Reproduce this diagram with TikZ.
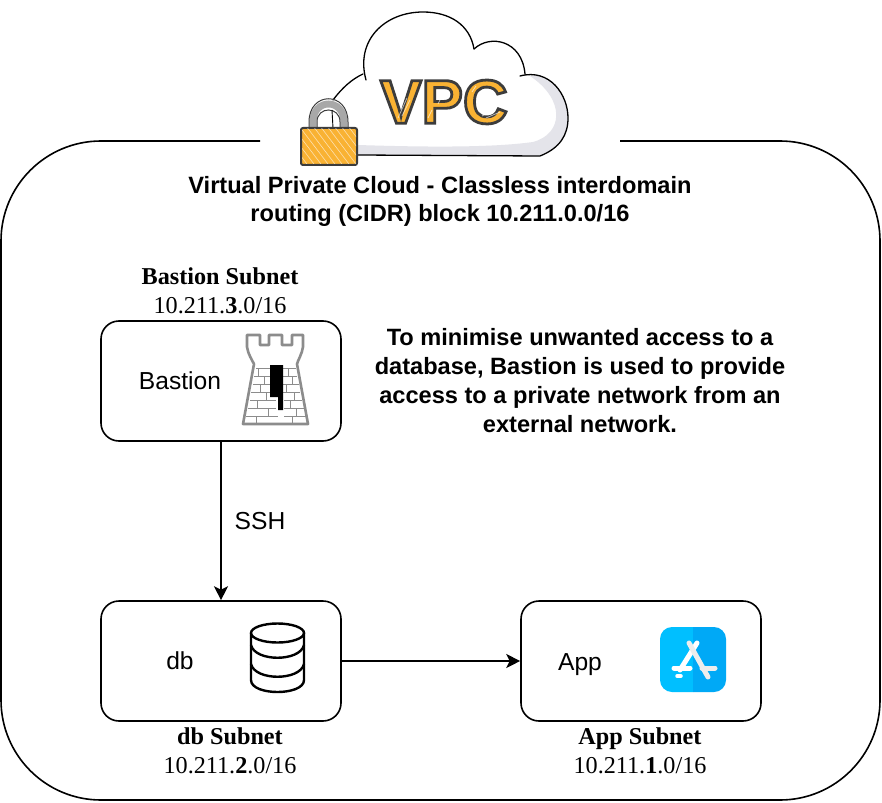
\documentclass[tikz,border=0pt]{standalone}
\usepackage{fontspec}
\setmainfont{Liberation Sans}
\newfontfamily\serifface{Liberation Serif}
\usetikzlibrary{arrows.meta}
\definecolor{vorange}{HTML}{F9B233}
\definecolor{vdark}{HTML}{3C3C3C}
\definecolor{vshade}{HTML}{E4E4EA}
\definecolor{vgray}{HTML}{A8A8A8}
\definecolor{twall}{HTML}{8C8C8C}
\definecolor{appl}{HTML}{00BFFF}
\definecolor{appr}{HTML}{00A9F6}
\tikzset{
  box/.style={draw=black,line width=1.6pt,rounded corners=18pt,minimum width=240pt,minimum height=120pt,inner sep=0pt},
  sans/.style={font=\fontsize{24.6}{28}\selectfont,inner sep=0pt},
  headtext/.style={font=\fontsize{23.6}{28}\selectfont\bfseries,align=center,inner sep=0pt},
  notetext/.style={font=\fontsize{23.6}{29}\selectfont\bfseries,align=center,inner sep=0pt},
  subtext/.style={font=\serifface\fontsize{24.2}{28.5}\selectfont,align=center,inner sep=0pt},
  link/.style={draw=black,line width=1.8pt,-{Stealth[length=14pt,width=14pt,inset=3.5pt]}},
  frame/.style={draw=black,line width=1.6pt},
  hatch/.style={draw=white,opacity=.6,line width=.6pt},
  brick/.style={draw=twall,line width=.8pt},
  cloudline/.style={draw=black,line width=1.3pt,line cap=round},
  appstroke/.style={draw=white,line cap=round,line width=5pt},
}
\begin{document}
\begin{tikzpicture}[x=1pt,y=-1pt]
\useasboundingbox[fill=white] (0,0) rectangle (882,802);
% outer frame
\draw[frame,rounded corners=100pt] (260,141) -- (1,141) -- (1,800) -- (880,800) -- (880,141) -- (620,141);
% cloud
\fill[white] (333,100) .. controls (345,88) and (355,80) .. (363,74)
  .. controls (355,40) and (385,12) .. (423,12) .. controls (450,12) and (470,25) .. (474,49)
  .. controls (490,34) and (525,40) .. (525,74) .. controls (550,72) and (568,95) .. (568,118)
  .. controls (568,135) and (560,148) .. (540,156) -- (358,155) -- (333,140) -- cycle;
\fill[vshade] (530,76) .. controls (550,72) and (568,95) .. (568,118)
  .. controls (568,135) and (560,148) .. (540,156) -- (358,155) -- (358,145)
  .. controls (420,147) and (490,148) .. (533,142) .. controls (563,134) and (566,100) .. (530,76) -- cycle;
\draw[cloudline] (333,100) .. controls (342,88) and (352,79) .. (363,74);
\draw[cloudline] (366,80) .. controls (355,40) and (385,12) .. (423,12)
  .. controls (450,12) and (470,25) .. (474,49);
\draw[cloudline] (474,49) .. controls (490,34) and (522,40) .. (525,74);
\draw[cloudline] (520,76) .. controls (550,68) and (568,95) .. (568,118)
  .. controls (568,135) and (560,148) .. (540,156) -- (358,155);
% VPC text
\node[inner sep=0pt,text=vorange,font=\fontsize{62}{62}\selectfont\bfseries] (vpc) at (444,102)
  {\special{pdf:code q 2 Tr 0.235 0.235 0.235 RG 2.8 w}VPC\special{pdf:code Q}};
\foreach \a/\b/\c/\d in {398/118/407/98,402/116/410/100,438/104/444/92,428/118/432/110,486/118/500/112,482/116/494/110,472/92/476/86}
  \draw[hatch,line width=.8pt] (\a,\b) -- (\c,\d);
% lock
\draw[vgray,line width=7pt] (313,129) -- (313,122) .. controls (313,98) and (344,98) .. (344,122) -- (344,129);
\draw[vdark,line width=1pt] (309,129) -- (309,122) .. controls (309,91) and (348,91) .. (348,122) -- (348,129);
\draw[vdark,line width=1pt] (317,129) -- (317,122) .. controls (317,106) and (340,106) .. (340,122) -- (340,129);
\draw[black,line width=.9pt] (332,110) -- (333,128);
\draw[fill=vorange,draw=vdark,line width=2pt,rounded corners=2pt] (301,128) rectangle (357,165);
\begin{scope}
\clip (302,129) rectangle (356,164);
\foreach \o in {0,7,...,84} {
  \draw[hatch] (296+\o,168) -- (296+\o-32,126);
}
\end{scope}
% boxes
\node[box] (bastion) at (221,381) {};
\node[box] (db) at (221,661) {};
\node[box] (app) at (641,661) {};
% tower
\fill[white,draw=twall,line width=2.6pt,line join=round] (247,335) -- (260,335) -- (260,345) -- (269,345) -- (269,335) -- (282,335) -- (282,345) -- (292,345) -- (292,335) -- (303,335) -- (303,347)
  .. controls (302,354) and (298,360) .. (297,364) -- (308,424) -- (243,424) -- (254,364)
  .. controls (252,360) and (248,354) .. (247,347) -- cycle;
\foreach \y/\a/\b in {368/256/270,368/283/296,376/254/270,376/283/297,384/253/270,384/283/299,392/251/270,392/283/300,400/250/276,400/284/302,408/248/276,408/284/304,416/246/278,416/284/306}
  \draw[brick] (\a,\y) -- (\b,\y);
\foreach \x/\y in {258/368,264/376,260/384,266/392,257/400,268/408,256/416,288/368,292/376,286/384,294/392,290/400,296/408,292/416}
  \draw[brick] (\x,\y) -- (\x,\y+8);
\fill[black] (270,365) -- (283,365) -- (283,410) -- (278,410) -- (278,397) -- (270,397) -- cycle;
% database
\begin{scope}[line width=2.4pt,draw=black]
\draw (277.5,633) ellipse[x radius=26.5,y radius=9.5];
\draw (251,633) -- (251,680) .. controls (251,696) and (304,696) .. (304,680) -- (304,633);
\draw (251,645) .. controls (255,662) and (300,662) .. (304,645);
\draw (251,664) .. controls (255,681) and (300,681) .. (304,664);
\end{scope}
% app icon
\fill[appl] (693,627) -- (672,627) arc[start angle=270,end angle=180,radius=12] -- (660,680) arc[start angle=180,end angle=90,radius=12] -- (693,692) -- cycle;
\fill[appr] (693,627) -- (714,627) arc[start angle=-90,end angle=0,radius=12] -- (726,680) arc[start angle=0,end angle=90,radius=12] -- (693,692) -- cycle;
\draw[appstroke] (697,643) -- (680,670);
\draw[appstroke,draw=white!93!black] (689,643) -- (708,677);
\draw[appstroke] (674,668) -- (690,668);
\draw[appstroke,draw=white!93!black] (702,668) -- (715,668);
\draw[appstroke,line width=3.5pt] (677,676) -- (681,676);
% connectors
\draw[link] (bastion) -- (db);
\draw[link] (db) -- (app);
% texts
\node[headtext] (head) at (440,201) {Virtual Private Cloud - Classless interdomain\\routing (CIDR) block 10.211.0.0/16};
\node[subtext] (bsub) at (220,291) {\textbf{Bastion Subnet}\\10.211.\textbf{3}.0/16};
\node[notetext] (note) at (580,381) {To minimise unwanted access to a\\database, Bastion is used to provide\\access to a private network from an\\external network.};
\node[sans] (bl) at (180,381) {Bastion};
\node[sans] (ssh) at (260,521) {SSH};
\node[sans] (dbl) at (180,661) {db};
\node[sans,anchor=base] (appl) at (580,670) {App};
\node[subtext] (dsub) at (230,751) {\textbf{db Subnet}\\10.211.\textbf{2}.0/16};
\node[subtext] (asub) at (640,751) {\textbf{App Subnet}\\10.211.\textbf{1}.0/16};
\end{tikzpicture}
\end{document}
